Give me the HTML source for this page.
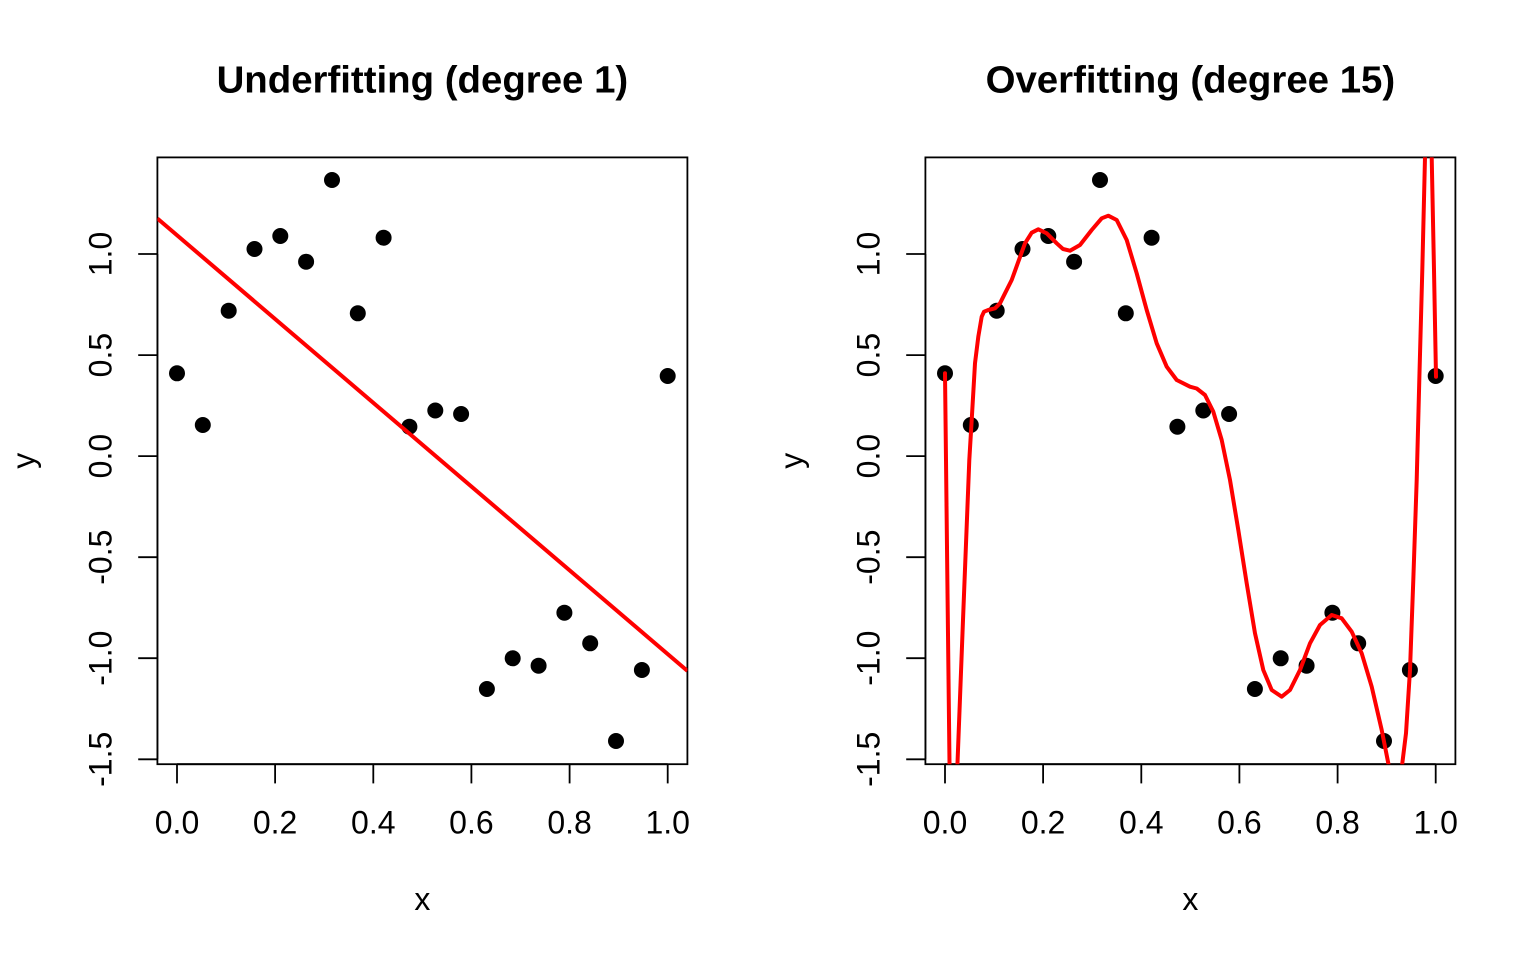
<!DOCTYPE html>
<html><head><meta charset="utf-8"><style>
html,body{margin:0;padding:0;background:#fff;}
svg{display:block;}
text{font-family:"Liberation Sans",Arial,Helvetica,sans-serif;fill:#000;}
.t{font-size:38.4px;font-weight:bold;}
.a{font-size:32px;}
</style></head><body>
<svg width="1536" height="960" viewBox="0 0 1536 960" xmlns="http://www.w3.org/2000/svg">
<rect x="0" y="0" width="1536" height="960" fill="#fff"/>
<defs>
<clipPath id="c1"><rect x="157.4" y="157.4" width="530" height="606.8"/></clipPath>
<clipPath id="c2"><rect x="925.4" y="157.4" width="530" height="606.8"/></clipPath>
</defs>

<!-- ===== LEFT PANEL ===== -->
<g>
<text class="t" x="422.4" y="92.5" text-anchor="middle">Underfitting (degree 1)</text>
<rect x="157.4" y="157.4" width="530" height="606.8" fill="none" stroke="#000" stroke-width="1.8"/>
<g stroke="#000" stroke-width="1.8">
<line x1="177.0" y1="764.2" x2="667.7" y2="764.2"/>
<line x1="177.0" y1="764.2" x2="177.0" y2="783.4"/>
<line x1="275.1" y1="764.2" x2="275.1" y2="783.4"/>
<line x1="373.3" y1="764.2" x2="373.3" y2="783.4"/>
<line x1="471.4" y1="764.2" x2="471.4" y2="783.4"/>
<line x1="569.6" y1="764.2" x2="569.6" y2="783.4"/>
<line x1="667.7" y1="764.2" x2="667.7" y2="783.4"/>
</g>
<g text-anchor="middle">
<text class="a" x="177.0" y="833.3">0.0</text>
<text class="a" x="275.1" y="833.3">0.2</text>
<text class="a" x="373.3" y="833.3">0.4</text>
<text class="a" x="471.4" y="833.3">0.6</text>
<text class="a" x="569.6" y="833.3">0.8</text>
<text class="a" x="667.7" y="833.3">1.0</text>
</g>
<g stroke="#000" stroke-width="1.8">
<line x1="157.4" y1="254.0" x2="157.4" y2="759.3"/>
<line x1="138.2" y1="254.0" x2="157.4" y2="254.0"/>
<line x1="138.2" y1="355.1" x2="157.4" y2="355.1"/>
<line x1="138.2" y1="456.1" x2="157.4" y2="456.1"/>
<line x1="138.2" y1="557.2" x2="157.4" y2="557.2"/>
<line x1="138.2" y1="658.2" x2="157.4" y2="658.2"/>
<line x1="138.2" y1="759.3" x2="157.4" y2="759.3"/>
</g>
<g text-anchor="middle">
<text class="a" transform="translate(111.3,254.0) rotate(-90)">1.0</text>
<text class="a" transform="translate(111.3,355.1) rotate(-90)">0.5</text>
<text class="a" transform="translate(111.3,456.1) rotate(-90)">0.0</text>
<text class="a" transform="translate(111.3,557.2) rotate(-90)">-0.5</text>
<text class="a" transform="translate(111.3,658.2) rotate(-90)">-1.0</text>
<text class="a" transform="translate(111.3,759.3) rotate(-90)">-1.5</text>
</g>
<text class="a" x="422.4" y="910.1" text-anchor="middle">x</text>
<text class="a" transform="translate(34.5,460.8) rotate(-90)" text-anchor="middle">y</text>
<g fill="#000">
<circle cx="177.0" cy="373.3" r="8"/>
<circle cx="202.8" cy="425.0" r="8"/>
<circle cx="228.7" cy="310.7" r="8"/>
<circle cx="254.5" cy="249.0" r="8"/>
<circle cx="280.3" cy="236.0" r="8"/>
<circle cx="306.1" cy="261.7" r="8"/>
<circle cx="332.0" cy="180.0" r="8"/>
<circle cx="357.8" cy="313.3" r="8"/>
<circle cx="383.6" cy="237.7" r="8"/>
<circle cx="409.4" cy="426.7" r="8"/>
<circle cx="435.3" cy="410.5" r="8"/>
<circle cx="461.1" cy="414.0" r="8"/>
<circle cx="486.9" cy="689.0" r="8"/>
<circle cx="512.7" cy="658.3" r="8"/>
<circle cx="538.6" cy="665.7" r="8"/>
<circle cx="564.4" cy="612.7" r="8"/>
<circle cx="590.2" cy="643.3" r="8"/>
<circle cx="616.0" cy="741.0" r="8"/>
<circle cx="641.9" cy="670.0" r="8"/>
<circle cx="667.7" cy="376.0" r="8"/>
</g>
<line x1="157.4" y1="218.5" x2="687.4" y2="670.9" stroke="#ff0000" stroke-width="4" clip-path="url(#c1)"/>
</g>

<!-- ===== RIGHT PANEL ===== -->
<g>
<text class="t" x="1190.4" y="92.5" text-anchor="middle">Overfitting (degree 15)</text>
<rect x="925.4" y="157.4" width="530" height="606.8" fill="none" stroke="#000" stroke-width="1.8"/>
<g stroke="#000" stroke-width="1.8">
<line x1="945.0" y1="764.2" x2="1435.7" y2="764.2"/>
<line x1="945.0" y1="764.2" x2="945.0" y2="783.4"/>
<line x1="1043.1" y1="764.2" x2="1043.1" y2="783.4"/>
<line x1="1141.3" y1="764.2" x2="1141.3" y2="783.4"/>
<line x1="1239.4" y1="764.2" x2="1239.4" y2="783.4"/>
<line x1="1337.6" y1="764.2" x2="1337.6" y2="783.4"/>
<line x1="1435.7" y1="764.2" x2="1435.7" y2="783.4"/>
</g>
<g text-anchor="middle">
<text class="a" x="945.0" y="833.3">0.0</text>
<text class="a" x="1043.1" y="833.3">0.2</text>
<text class="a" x="1141.3" y="833.3">0.4</text>
<text class="a" x="1239.4" y="833.3">0.6</text>
<text class="a" x="1337.6" y="833.3">0.8</text>
<text class="a" x="1435.7" y="833.3">1.0</text>
</g>
<g stroke="#000" stroke-width="1.8">
<line x1="925.4" y1="254.0" x2="925.4" y2="759.3"/>
<line x1="906.2" y1="254.0" x2="925.4" y2="254.0"/>
<line x1="906.2" y1="355.1" x2="925.4" y2="355.1"/>
<line x1="906.2" y1="456.1" x2="925.4" y2="456.1"/>
<line x1="906.2" y1="557.2" x2="925.4" y2="557.2"/>
<line x1="906.2" y1="658.2" x2="925.4" y2="658.2"/>
<line x1="906.2" y1="759.3" x2="925.4" y2="759.3"/>
</g>
<g text-anchor="middle">
<text class="a" transform="translate(879.3,254.0) rotate(-90)">1.0</text>
<text class="a" transform="translate(879.3,355.1) rotate(-90)">0.5</text>
<text class="a" transform="translate(879.3,456.1) rotate(-90)">0.0</text>
<text class="a" transform="translate(879.3,557.2) rotate(-90)">-0.5</text>
<text class="a" transform="translate(879.3,658.2) rotate(-90)">-1.0</text>
<text class="a" transform="translate(879.3,759.3) rotate(-90)">-1.5</text>
</g>
<text class="a" x="1190.4" y="910.1" text-anchor="middle">x</text>
<text class="a" transform="translate(802.5,460.8) rotate(-90)" text-anchor="middle">y</text>
<g fill="#000">
<circle cx="945.0" cy="373.3" r="8"/>
<circle cx="970.8" cy="425.0" r="8"/>
<circle cx="996.7" cy="310.7" r="8"/>
<circle cx="1022.5" cy="249.0" r="8"/>
<circle cx="1048.3" cy="236.0" r="8"/>
<circle cx="1074.1" cy="261.7" r="8"/>
<circle cx="1100.0" cy="180.0" r="8"/>
<circle cx="1125.8" cy="313.3" r="8"/>
<circle cx="1151.6" cy="237.7" r="8"/>
<circle cx="1177.4" cy="426.7" r="8"/>
<circle cx="1203.3" cy="410.5" r="8"/>
<circle cx="1229.1" cy="414.0" r="8"/>
<circle cx="1254.9" cy="689.0" r="8"/>
<circle cx="1280.7" cy="658.3" r="8"/>
<circle cx="1306.6" cy="665.7" r="8"/>
<circle cx="1332.4" cy="612.7" r="8"/>
<circle cx="1358.2" cy="643.3" r="8"/>
<circle cx="1384.0" cy="741.0" r="8"/>
<circle cx="1409.9" cy="670.0" r="8"/>
<circle cx="1435.7" cy="376.0" r="8"/>
</g>
<polyline clip-path="url(#c2)" fill="none" stroke="#ff0000" stroke-width="4" stroke-linejoin="round" stroke-linecap="round"
points="945,373.3 946,460 947.6,600 949.5,763 951,820 953,850 955.5,820 957.5,763 963,620 969.3,460 971.7,420 975,363.3 978.3,336.7 981.7,316.7 984,311.7 988.3,310 995,308.3 1000,303.3 1005,293.3 1011.7,280 1018.3,261.7 1025,243.3 1031.7,232.7 1038.3,229.3 1046.7,233.3 1056.7,243.3 1063,249 1070,250.7 1080,245 1091.7,230 1101.7,218.3 1108.3,215.7 1116.7,220 1126.7,240 1136.7,273.3 1146.7,310 1156.7,343.3 1166.7,366.7 1176.7,380 1190,386.7 1196.7,388.5 1205,395 1213.3,411.7 1221.7,440 1230,480 1238.3,530 1246.7,583.3 1255,633.3 1263.3,670 1271.7,690 1281.7,696.7 1290,690 1300,670 1310,643.3 1320,625 1331.7,615 1341.7,618.3 1351.7,631.7 1361.7,653.3 1371.7,686.7 1381.7,730 1388.3,763.3 1392,790 1395,800 1399,790 1402.3,763.3 1406,733.3 1410,670 1413.3,580 1416.7,480 1419.3,380 1422.3,270 1425,157.3 1428,100 1431.7,157.3 1434,270 1436,376.7"/>
</g>
</svg>
</body></html>
